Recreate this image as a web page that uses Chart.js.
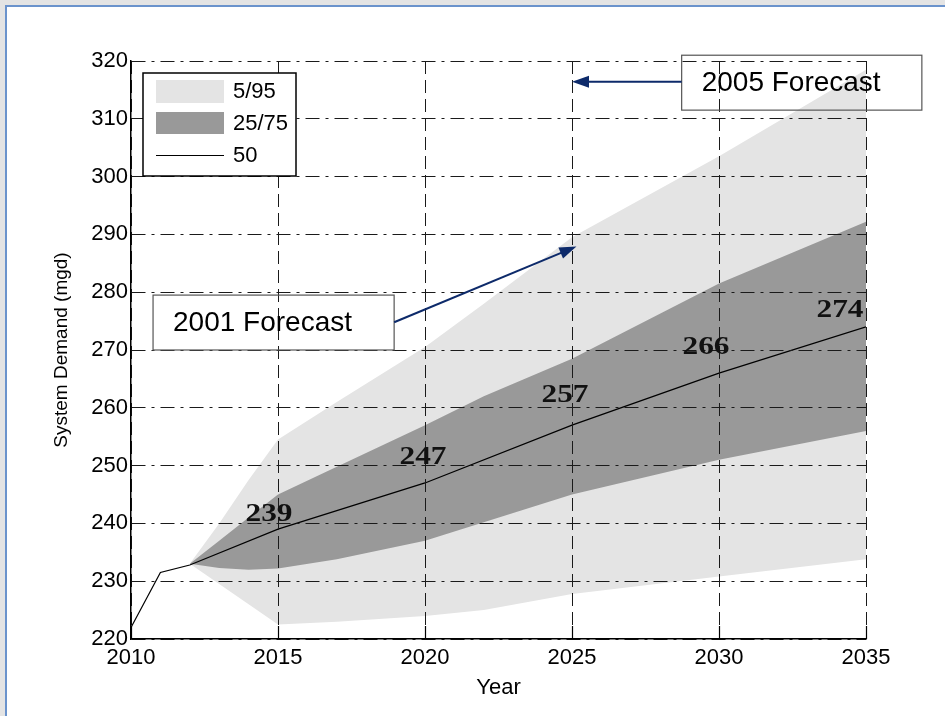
<!DOCTYPE html>
<html>
<head>
<meta charset="utf-8">
<script src="https://cdn.jsdelivr.net/npm/chart.js@4.4.1/dist/chart.umd.min.js"></script>
<style>
  html, body { margin: 0; padding: 0; background: #e4e4e4; overflow: hidden; width: 945px; height: 716px; }
  #frame { position: absolute; left: 5px; top: 5px; width: 960px; height: 730px; background: #fff;
           border-left: 2px solid #6b93cc; border-top: 2px solid #6b93cc; }
  #wrap { position: absolute; left: 0; top: 0; width: 945px; height: 716px; }
</style>
</head>
<body>
<div id="frame"></div>
<div id="wrap"><canvas id="demandChart"></canvas></div>
<script>
// median (50th percentile) forecast
const medianYears = [2010, 2011, 2012, 2015, 2020, 2025, 2030, 2035];
const median = [222, 231.5, 232.8, 239, 247, 257, 266, 274];

// percentile bands
const bandYears = [2012, 2013, 2014, 2015, 2017, 2020, 2022, 2025, 2030, 2035];
const p95 = [233, 240, 247.5, 254.5, 261, 270.5, 278, 289.5, 303.5, 318.5];
const p75 = [233, 237, 241, 245, 249.8, 257, 262, 268.5, 281.5, 292.2];
const p25 = [233, 232.3, 232, 232.2, 233.8, 237, 240.2, 245, 251, 256];
const p5  = [233, 229.5, 226, 222.5, 223, 224, 225, 227.8, 230.8, 233.8];

const labelYears = [2015, 2020, 2025, 2030, 2035];
const xTicks = [2010, 2015, 2020, 2025, 2030, 2035];
const yTicks = [220, 230, 240, 250, 260, 270, 280, 290, 300, 310, 320];

// pixel nudges for the value labels (dx, dy from the point)
const labelShift = [[-9, -15], [-2, -26], [-7, -30], [-13, -26], [-26, -17]];

const LIGHT = '#e4e4e4';
const DARK = '#999999';
const NAVY = '#0d2a6a';

function pts(xs, ys) { return xs.map((x, i) => ({x: x, y: ys[i]})); }

const overlay = {
  id: 'overlay',
  afterDraw(chart) {
    const {ctx} = chart;
    const x = chart.scales.x, y = chart.scales.y;
    ctx.save();

    // inward tick marks on the x axis
    ctx.strokeStyle = '#000';
    ctx.lineWidth = 1.2;
    xTicks.forEach(t => {
      const px = Math.round(x.getPixelForValue(t)) + 0.5;
      ctx.beginPath();
      ctx.moveTo(px, y.bottom);
      ctx.lineTo(px, y.bottom - 13);
      ctx.stroke();
    });

    // median value labels
    ctx.font = 'bold 28px "Liberation Serif", "Times New Roman", serif';
    ctx.fillStyle = '#111';
    ctx.textAlign = 'center';
    ctx.textBaseline = 'middle';
    labelYears.forEach((yr, i) => {
      const v = median[medianYears.indexOf(yr)];
      const cx = x.getPixelForValue(yr) + labelShift[i][0];
      const cy = y.getPixelForValue(v) + labelShift[i][1];
      ctx.save();
      ctx.translate(cx, cy);
      ctx.scale(1.12, 0.92);
      ctx.fillText(String(v), 0, 0);
      ctx.restore();
    });

    // legend box
    const lx = x.left + 12, ly = y.top + 12;
    ctx.fillStyle = '#fff';
    ctx.fillRect(lx, ly, 153, 103);
    ctx.strokeStyle = '#000';
    ctx.lineWidth = 1.5;
    ctx.strokeRect(lx, ly, 153, 103);
    ctx.fillStyle = LIGHT;
    ctx.fillRect(lx + 13, ly + 7, 68, 23);
    ctx.fillStyle = DARK;
    ctx.fillRect(lx + 13, ly + 39, 68, 22);
    ctx.lineWidth = 1;
    ctx.beginPath();
    ctx.moveTo(lx + 13, ly + 82.5);
    ctx.lineTo(lx + 81, ly + 82.5);
    ctx.stroke();
    ctx.fillStyle = '#000';
    ctx.font = '22px "Liberation Sans", Arial, sans-serif';
    ctx.textBaseline = 'middle';
    ctx.textAlign = 'left';
    const names = chart.data.datasets.filter(d => d.legendName).map(d => d.legendName);
    names.forEach((n, i) => ctx.fillText(n, lx + 90, ly + 19 + i * 32));

    // forecast callouts
    function box(x0, y0, x1, y1, text) {
      const a = x.getPixelForValue(x0), b = y.getPixelForValue(y0);
      const c = x.getPixelForValue(x1), d = y.getPixelForValue(y1);
      ctx.strokeStyle = '#555';
      ctx.lineWidth = 1.2;
      ctx.strokeRect(a, b, c - a, d - b);
      ctx.fillStyle = '#000';
      ctx.font = '28px "Liberation Sans", Arial, sans-serif';
      ctx.textAlign = 'left';
      ctx.textBaseline = 'middle';
      ctx.fillText(text, a + 20, (b + d) / 2 + 1);
    }
    function arrow(x0, y0, x1, y1) {
      const a = x.getPixelForValue(x0), b = y.getPixelForValue(y0);
      const c = x.getPixelForValue(x1), d = y.getPixelForValue(y1);
      const ang = Math.atan2(d - b, c - a);
      ctx.strokeStyle = NAVY;
      ctx.fillStyle = NAVY;
      ctx.lineWidth = 2;
      ctx.beginPath();
      ctx.moveTo(a, b);
      ctx.lineTo(c - 12 * Math.cos(ang), d - 12 * Math.sin(ang));
      ctx.stroke();
      ctx.beginPath();
      ctx.moveTo(c, d);
      ctx.lineTo(c - 17 * Math.cos(ang) + 6 * Math.sin(ang), d - 17 * Math.sin(ang) - 6 * Math.cos(ang));
      ctx.lineTo(c - 17 * Math.cos(ang) - 6 * Math.sin(ang), d - 17 * Math.sin(ang) + 6 * Math.cos(ang));
      ctx.closePath();
      ctx.fill();
    }
    box(2028.73, 321.0, 2036.9, 311.5, '2005 Forecast');
    arrow(2028.73, 316.4, 2025.0, 316.4);
    box(2010.75, 279.5, 2018.95, 270.0, '2001 Forecast');
    arrow(2018.95, 274.8, 2025.15, 287.9);

    ctx.restore();
  }
};

const ctx = document.getElementById('demandChart').getContext('2d');
const demandChart = new Chart(ctx, {
  type: 'line',
  data: {
    datasets: [
      {
        legendName: '5/95',
        data: pts(bandYears, p95),
        borderWidth: 0,
        pointRadius: 0,
        backgroundColor: LIGHT,
        fill: '+1',
        order: 3
      },
      {
        data: pts(bandYears, p5),
        borderWidth: 0,
        pointRadius: 0,
        fill: false,
        order: 3
      },
      {
        legendName: '25/75',
        data: pts(bandYears, p75),
        borderWidth: 0,
        pointRadius: 0,
        backgroundColor: DARK,
        fill: '+1',
        order: 2
      },
      {
        data: pts(bandYears, p25),
        borderWidth: 0,
        pointRadius: 0,
        fill: false,
        order: 2
      },
      {
        legendName: '50',
        data: pts(medianYears, median),
        borderColor: '#000',
        borderWidth: 1.2,
        pointRadius: 0,
        fill: false,
        order: 1
      }
    ]
  },
  options: {
    responsive: true,
    maintainAspectRatio: false,
    animation: false,
    layout: { padding: { left: 50, top: 61, right: 79, bottom: 0 } },
    plugins: {
      legend: { display: false },
      tooltip: { enabled: false }
    },
    scales: {
      x: {
        type: 'linear',
        min: 2010,
        max: 2035,
        afterBuildTicks: s => { s.ticks = xTicks.map(v => ({value: v})); },
        afterFit: s => { s.height = 77; },
        ticks: {
          color: '#000',
          padding: 6,
          font: { size: 22, family: '"Liberation Sans", Arial, sans-serif' },
          callback: v => String(v)
        },
        grid: { color: '#1a1a1a', lineWidth: 1, drawTicks: false, z: 1 },
        border: { display: true, color: '#000', width: 1.5, dash: [13, 6], z: 2 },
        title: {
          display: true,
          text: 'Year',
          color: '#000',
          padding: { top: 15, bottom: 15 },
          font: { size: 22, family: '"Liberation Sans", Arial, sans-serif' }
        }
      },
      y: {
        min: 220,
        max: 320,
        afterBuildTicks: s => { s.ticks = yTicks.map(v => ({value: v})); },
        afterFit: s => { s.width = 81; },
        ticks: {
          color: '#000',
          padding: 3,
          font: { size: 22, family: '"Liberation Sans", Arial, sans-serif' }
        },
        grid: { color: '#1a1a1a', lineWidth: 1, drawTicks: false, z: 1 },
        border: { display: true, color: '#000', width: 1.5, dash: [14, 6, 3, 6], z: 2 },
        title: {
          display: true,
          text: 'System Demand (mgd)',
          color: '#000',
          padding: { top: 0, bottom: 0 },
          font: { size: 19, family: '"Liberation Sans", Arial, sans-serif' }
        }
      }
    }
  },
  plugins: [overlay]
});
</script>
</body>
</html>
